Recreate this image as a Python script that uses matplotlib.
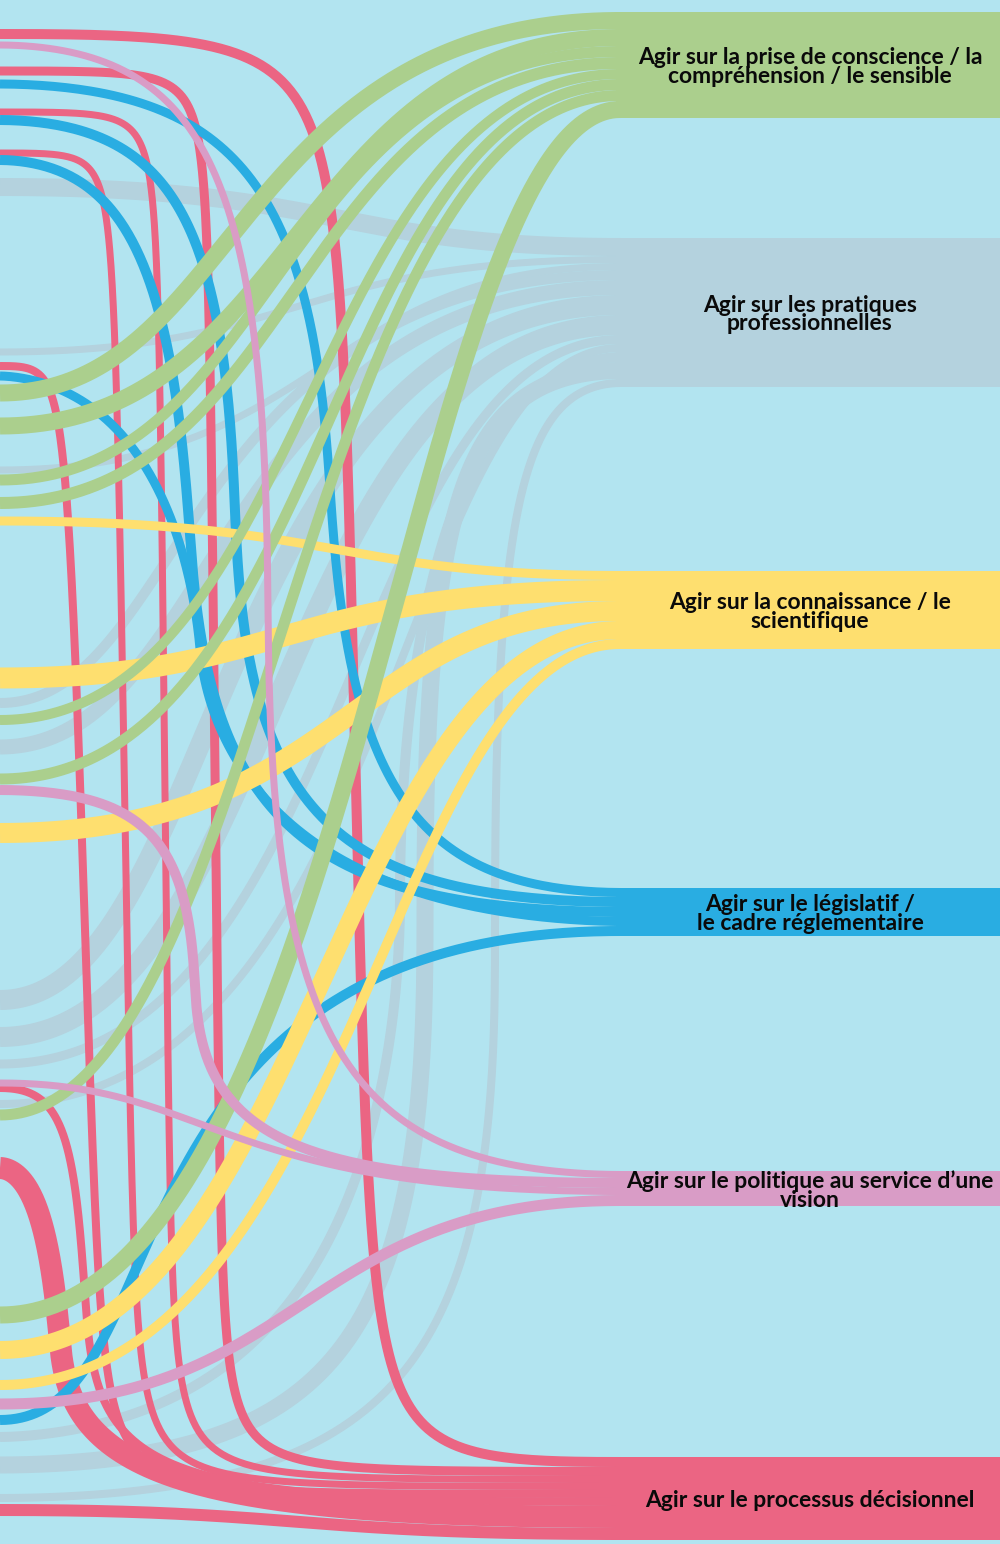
import numpy as np
import matplotlib
matplotlib.use("Agg")
import matplotlib.pyplot as plt
from matplotlib.patches import Rectangle

plt.rcParams["font.family"] = ["Lato", "DejaVu Sans"]

W, H = 1000, 1544
BG = "#B2E4F0"
NODE_X = 616

# target nodes (right column)
NODE_LABELS = [
    "Agir sur la prise de conscience / la\ncompréhension / le sensible",
    "Agir sur les pratiques\nprofessionnelles",
    "Agir sur la connaissance / le\nscientifique",
    "Agir sur le législatif /\nle cadre réglementaire",
    "Agir sur le politique au service d’une\nvision",
    "Agir sur le processus décisionnel",
]
NODE_COLORS = ["#ABCF8D", "#B4D2DE", "#FEDF6F", "#29ADE2", "#D99CC6", "#EB6583"]
NODE_TOP = [12, 238, 571, 888, 1171, 1457]

# links: target node, source y (left edge), value, turn x, bend, drift
LINK_TARGET = [0] * 8 + [1] * 12 + [2] * 5 + [3] * 5 + [4] * 4 + [5] * 8
LINK_SRC_Y = [393, 426, 480, 503, 720, 779, 1115, 1315,
              187, 352, 470, 703, 747, 1000, 1037, 1064, 1104, 1437, 1465, 1498,
              521, 678, 833, 1350, 1385,
              84, 120, 160, 376, 1420,
              45, 790, 1083, 1404,
              34, 71, 112, 153, 366, 1088, 1168, 1510]
LINK_VALUE = [17, 17, 11, 12, 10, 11, 11, 17,
              18, 7, 7, 10, 15, 20, 20, 9, 8, 10, 17, 8,
              9, 21, 20, 18, 10,
              9, 10, 10, 9, 10,
              7, 10, 7, 11,
              10, 9, 7, 7, 8, 8, 22, 12]
LINK_TURN_X = [255, 300, 285, 300, 310, 324, 290, 365,
               330, 300, 320, 215, 240, 240, 285, 340, 375, 400, 425, 495,
               330, 290, 340, 318, 356,
               330, 235, 190, 200, 180,
               268, 195, 237, 305,
               355, 215, 165, 125, 85, 85, 60, 300]
LINK_BEND = [1.5, 1.5, 1.5, 1.5, 1.6, 1.6, 1.6, 1.4,
             1.5, 1.5, 1.5, 1.5, 1.5, 1.5, 1.5, 1.8, 1.8, 2.0, 2.5, 2.5,
             1.5, 1.5, 1.5, 1.6, 1.6,
             2.5, 2.5, 2.5, 2.0, 1.5,
             2.5, 2.5, 1.5, 1.5,
             4, 5, 5, 5, 5, 3, 2.5, 1.5]
LINK_DRIFT = [0, 0, 0, 0, 0, 0, 40, 60,
              0, 0, 0, 0, 0, 0, 0, 0, 0, 0, 0, 0,
              0, 0, 0, 40, 40,
              100, 60, 100, 80, -100,
              20, 40, 0, 0,
              80, 40, 40, 60, 100, 60, 60, 0]

DRAW_ORDER = [1, 5, 3, 2, 0, 4]


def link_curve(y0, y1, xv, p, drift, x0=0.0, x1=NODE_X + 4, n=300):
    t = np.linspace(0, 1, n)
    if p < 2:
        # plain sankey-style cubic, midpoint passing through xv
        c = (8 * xv - x0 - x1) / 6
        c1, c2 = c - drift / 2, c + drift / 2
        a, b, cc, d = (1 - t) ** 3, 3 * (1 - t) ** 2 * t, 3 * (1 - t) * t ** 2, t ** 3
        x = a * x0 + b * c1 + cc * c2 + d * x1
        y = (a + b) * y0 + (cc + d) * y1
        return x, y
    # elbow: horizontal, long near-vertical run, horizontal
    u1 = np.clip(2 * t, 0, 1)
    u2 = np.clip(2 * t - 1, 0, 1)
    x = np.where(t < 0.5, x0 + (xv - x0) * (1 - (1 - u1) ** p),
                 xv + (x1 - xv) * u2 ** p)
    x = x + drift * (t - 0.5) * (1 - np.abs(2 * t - 1) ** p)
    k = 1 + p / 3
    s = t ** k / (t ** k + (1 - t) ** k)
    y = y0 + (y1 - y0) * s
    return x, y


# stack links on their target, ordered by source position
target_y = np.zeros(len(LINK_VALUE))
node_h = []
for j, top in enumerate(NODE_TOP):
    idx = [i for i in range(len(LINK_VALUE)) if LINK_TARGET[i] == j]
    idx.sort(key=lambda i: LINK_SRC_Y[i])
    cur = top
    for i in idx:
        target_y[i] = cur + LINK_VALUE[i] / 2
        cur += LINK_VALUE[i]
    node_h.append(cur - top)

fig = plt.figure(figsize=(W / 100, H / 100), dpi=100)
fig.patch.set_facecolor(BG)
ax = fig.add_axes([0, 0, 1, 1])
ax.set_facecolor(BG)
ax.set_xlim(0, W)
ax.set_ylim(H, 0)
ax.axis("off")

px = 72 / 100  # points per pixel
for j in DRAW_ORDER:
    for i in range(len(LINK_VALUE)):
        if LINK_TARGET[i] != j:
            continue
        x, y = link_curve(LINK_SRC_Y[i], target_y[i], LINK_TURN_X[i],
                          LINK_BEND[i], LINK_DRIFT[i])
        ax.plot(x, y, color=NODE_COLORS[j], lw=LINK_VALUE[i] * px,
                solid_capstyle="butt", solid_joinstyle="round", zorder=2)

for j, top in enumerate(NODE_TOP):
    ax.add_patch(Rectangle((NODE_X, top), W - NODE_X, node_h[j],
                           facecolor=NODE_COLORS[j], edgecolor="none", zorder=3))
    ax.text((NODE_X + W) / 2 + 2, top + node_h[j] / 2 + 2, NODE_LABELS[j],
            ha="center", va="center", fontsize=16.5, fontweight="bold",
            linespacing=0.84, color="#0a0a0a", zorder=4)

fig.savefig("out.png", dpi=100, facecolor=BG)
